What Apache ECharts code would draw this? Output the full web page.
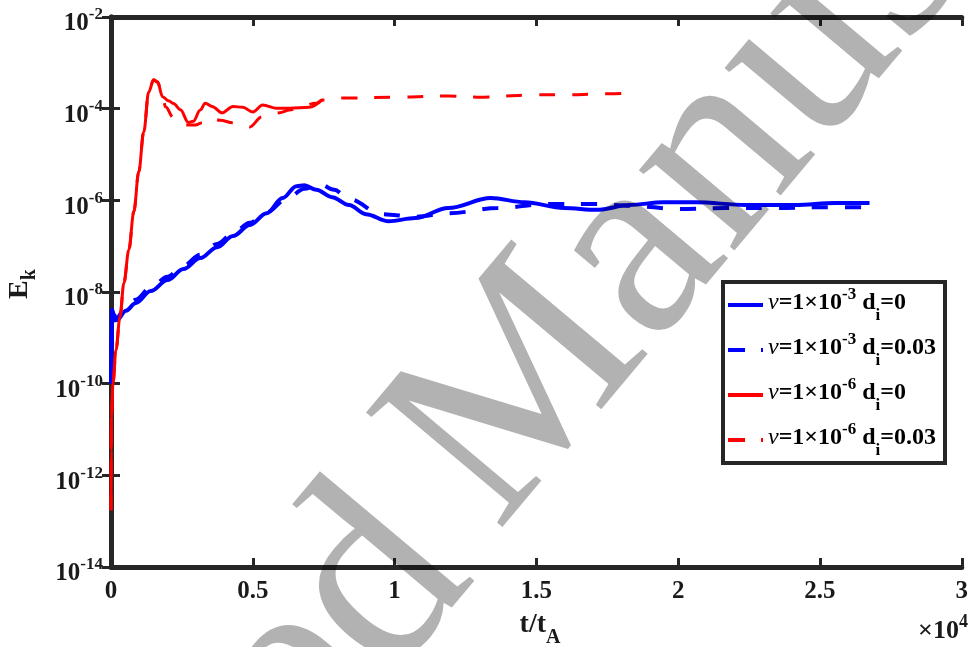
<!DOCTYPE html>
<html>
<head>
<meta charset="utf-8">
<script src="https://cdn.jsdelivr.net/npm/echarts@6/dist/echarts.min.js"></script>
<style>
  html, body { margin: 0; padding: 0; background: #fff; }
  #main { width: 971px; height: 647px; }
</style>
</head>
<body>
<div id="main"></div>
<script>
// t/t_A and E_k
const blueSolidT = [0, 17, 35, 105, 210, 524, 874, 1399, 1993, 2552, 3147, 3741, 4301, 4895, 5490, 6049, 6538, 6818, 7238, 7797, 8392, 8986, 9790, 10734, 11888, 13392, 14580, 15979, 17133, 18287, 19476, 20629, 22378, 24126, 25524, 26748];
const blueSolidE = [1.0e-10, 6.9e-10, 4.1e-9, 3.2e-9, 2.45e-9, 3.9e-9, 5.75e-9, 1.05e-8, 1.82e-8, 3.16e-8, 5.5e-8, 9.5e-8, 1.66e-7, 2.9e-7, 5.2e-7, 1.12e-6, 2.04e-6, 2.14e-6, 1.7e-6, 1.17e-6, 7.9e-7, 5.0e-7, 3.5e-7, 4.1e-7, 6.8e-7, 1.12e-6, 9.1e-7, 6.8e-7, 6.2e-7, 7.9e-7, 9.1e-7, 9.1e-7, 7.9e-7, 7.9e-7, 8.7e-7, 8.7e-7];

const blueDashT = [0, 35, 140, 524, 874, 1399, 1993, 2552, 3147, 3741, 4301, 4895, 5490, 6189, 6818, 7343, 7867, 8392, 9545, 10734, 11888, 13636, 15385, 17133, 18287, 20035, 21678, 23427, 25175, 26678];
const blueDashE = [1.0e-10, 2.8e-9, 2.4e-9, 4.7e-9, 6.8e-9, 1.25e-8, 2.15e-8, 3.75e-8, 6.5e-8, 1.12e-7, 1.9e-7, 3.25e-7, 5.5e-7, 1.07e-6, 1.78e-6, 2.3e-6, 1.7e-6, 1.07e-6, 5.0e-7, 4.4e-7, 5.2e-7, 6.8e-7, 8.3e-7, 8.3e-7, 7.6e-7, 6.5e-7, 6.8e-7, 6.8e-7, 7.1e-7, 7.1e-7];

const redSolidT = [0, 5, 17, 70, 175, 315, 455, 629, 804, 979, 1154, 1329, 1503, 1643, 1818, 2028, 2203, 2448, 2727, 2902, 3147, 3322, 3566, 3916, 4301, 4650, 4999, 5350, 5839, 6294, 6993, 7448];
const redSolidE = [1.74e-13, 3.5e-12, 1.86e-11, 1.02e-10, 5.4e-10, 2.8e-9, 1.58e-8, 8.3e-8, 5.6e-7, 4.2e-6, 3.1e-5, 2.3e-4, 4.3e-4, 3.8e-4, 1.82e-4, 1.48e-4, 1.29e-4, 9.5e-5, 5.0e-5, 5.3e-5, 9.3e-5, 1.32e-4, 1.12e-4, 8.1e-5, 1.12e-4, 1.07e-4, 8.5e-5, 1.2e-4, 1.02e-4, 1.02e-4, 1.07e-4, 1.55e-4];

const redDashT = [0, 5, 17, 70, 175, 315, 455, 629, 804, 979, 1154, 1329, 1503, 1643, 1818, 1923, 2203, 2622, 2972, 3217, 3497, 3846, 4301, 4720, 4895, 5315, 5944, 6294, 6643, 7238, 7448, 8147, 10140, 11888, 12937, 14930, 16084, 17238, 18531];
const redDashE = [1.74e-13, 3.5e-12, 1.86e-11, 1.02e-10, 5.4e-10, 2.8e-9, 1.58e-8, 8.3e-8, 5.6e-7, 4.2e-6, 3.1e-5, 2.3e-4, 4.3e-4, 3.8e-4, 1.82e-4, 1.1e-4, 6.3e-5, 4.4e-5, 4.4e-5, 4.9e-5, 6.3e-5, 5.6e-5, 4.9e-5, 4.4e-5, 4.0e-5, 6.6e-5, 8.1e-5, 9.3e-5, 1.1e-4, 1.32e-4, 1.55e-4, 1.7e-4, 1.78e-4, 1.9e-4, 1.78e-4, 2.0e-4, 2.0e-4, 2.1e-4, 2.2e-4];

const legendTexts = {
  nu3_d0: '{nu|ν}{t|=1×10}{sup|-3}{t| d}{sub|i}{t|=0}',
  nu3_d003: '{nu|ν}{t|=1×10}{sup|-3}{t| d}{sub|i}{t|=0.03}',
  nu6_d0: '{nu|ν}{t|=1×10}{sup|-6}{t| d}{sub|i}{t|=0}',
  nu6_d003: '{nu|ν}{t|=1×10}{sup|-6}{t| d}{sub|i}{t|=0.03}'
};

const FONT = '"Liberation Serif", "Times New Roman", serif';
const AXIS = '#262626';
const DASH = [16, 17];
// legend samples: full line, or dash + dot
const ICON_SOLID = 'path://M0,0H35V4H0Z';
const ICON_DASHDOT = 'path://M0,0H17V4H0Z M33,0H35V4H33Z';

function pairs(t, e) {
  return t.map((v, i) => [v, e[i]]);
}

const chart = echarts.init(document.getElementById('main'), null, { renderer: 'canvas' });

const lineSeries = (name, t, e, color, width, dashed) => ({
  name: name,
  type: 'line',
  data: pairs(t, e),
  symbol: 'none',
  smooth: 0.35,
  smoothMonotone: 'x',
  lineStyle: { color: color, width: width, type: dashed ? DASH : 'solid' },
  itemStyle: { color: color }
});

const WM = 'rgba(0,0,0,0.3)';
const WM_SIZE = 272;

chart.setOption({
  backgroundColor: '#fff',
  animation: false,
  grid: { left: 111, right: 4, top: 17, bottom: 80, containLabel: false },
  xAxis: [
    {
      type: 'value', min: 0, max: 30000, interval: 5000, position: 'bottom',
      axisLine: { lineStyle: { color: AXIS, width: 5 } },
      axisTick: { inside: true, length: 9, lineStyle: { color: AXIS, width: 3 } },
      splitLine: { show: false },
      axisLabel: {
        margin: 12,
        color: '#1a1a1a', fontFamily: FONT, fontWeight: 'bold', fontSize: 25,
        formatter: v => String(v / 10000),
        showMinLabel: true, showMaxLabel: true
      }
    },
    {
      type: 'value', min: 0, max: 30000, interval: 5000, position: 'top',
      axisLine: { lineStyle: { color: AXIS, width: 5 } },
      axisTick: { inside: true, length: 9, lineStyle: { color: AXIS, width: 3 } },
      splitLine: { show: false },
      axisLabel: { show: false }
    }
  ],
  yAxis: [
    {
      type: 'log', logBase: 10, min: 1e-14, max: 1e-2, interval: 2, splitNumber: 6, position: 'left',
      axisLine: { lineStyle: { color: AXIS, width: 5 } },
      axisTick: { inside: true, length: 9, lineStyle: { color: AXIS, width: 3 } },
      minorTick: { show: false },
      splitLine: { show: false },
      axisLabel: {
        margin: 8,
        color: '#1a1a1a',
        formatter: v => '{b|10}{e|' + Math.round(Math.log10(v)) + '}',
        rich: {
          b: { fontFamily: FONT, fontWeight: 'bold', fontSize: 25, color: '#1a1a1a', verticalAlign: 'bottom' },
          e: { fontFamily: FONT, fontWeight: 'bold', fontSize: 17, color: '#1a1a1a', verticalAlign: 'bottom', padding: [9, 0, 13, 0] }
        }
      }
    },
    {
      type: 'log', logBase: 10, min: 1e-14, max: 1e-2, interval: 2, splitNumber: 6, position: 'right',
      axisLine: { lineStyle: { color: AXIS, width: 5 } },
      axisTick: { inside: true, length: 9, lineStyle: { color: AXIS, width: 3 } },
      minorTick: { show: false },
      splitLine: { show: false },
      axisLabel: { show: false }
    }
  ],
  legend: {
    data: [
      { name: 'nu3_d0', icon: ICON_SOLID },
      { name: 'nu3_d003', icon: ICON_DASHDOT },
      { name: 'nu6_d0', icon: ICON_SOLID },
      { name: 'nu6_d003', icon: ICON_DASHDOT }
    ],
    orient: 'vertical',
    left: 728,
    top: 286,
    padding: 0,
    itemWidth: 35,
    itemHeight: 4,
    itemGap: 7,
    z: 8,
    selectedMode: false,
    formatter: name => legendTexts[name],
    textStyle: {
      rich: {
        t: { fontFamily: FONT, fontWeight: 'bold', fontSize: 24, color: '#000', verticalAlign: 'bottom', padding: [0, 0, 9, 0] },
        nu: { fontFamily: FONT, fontStyle: 'italic', fontSize: 24, color: '#000', verticalAlign: 'bottom', padding: [0, 0, 9, 0] },
        sup: { fontFamily: FONT, fontWeight: 'bold', fontSize: 17, color: '#000', verticalAlign: 'bottom', padding: [0, 0, 21, 0] },
        sub: { fontFamily: FONT, fontWeight: 'bold', fontSize: 17, color: '#000', verticalAlign: 'bottom' }
      }
    }
  },
  series: [
    lineSeries('nu3_d0', blueSolidT, blueSolidE, '#0000ff', 4, false),
    lineSeries('nu3_d003', blueDashT, blueDashE, '#0000ff', 4, true),
    lineSeries('nu6_d0', redSolidT, redSolidE, '#ff0000', 3, false),
    lineSeries('nu6_d003', redDashT, redDashE, '#ff0000', 3, true)
  ],
  graphic: [
    // legend box
    {
      type: 'rect', z: 7,
      shape: { x: 723, y: 282, width: 222, height: 181 },
      style: { fill: '#fff', stroke: AXIS, lineWidth: 4 }
    },
    {
      type: 'text', x: 23, y: 284, rotation: Math.PI / 2,
      style: {
        text: '{m|E}{s|k}', align: 'center', verticalAlign: 'middle',
        rich: {
          m: { fontFamily: FONT, fontWeight: 'bold', fontSize: 28, fill: '#1a1a1a', verticalAlign: 'bottom', padding: [0, 0, 6, 0] },
          s: { fontFamily: FONT, fontWeight: 'bold', fontSize: 20, fill: '#1a1a1a', verticalAlign: 'bottom' }
        }
      }
    },
    {
      type: 'text', x: 540, y: 629,
      style: {
        text: '{m|t/t}{s|A}', align: 'center', verticalAlign: 'middle',
        rich: {
          m: { fontFamily: FONT, fontWeight: 'bold', fontSize: 28, fill: '#1a1a1a', verticalAlign: 'bottom', padding: [0, 0, 9, 0] },
          s: { fontFamily: FONT, fontWeight: 'bold', fontSize: 20, fill: '#1a1a1a', verticalAlign: 'bottom' }
        }
      }
    },
    {
      type: 'text', x: 943, y: 629,
      style: {
        text: '{m|×10}{s|4}', align: 'center', verticalAlign: 'middle',
        rich: {
          m: { fontFamily: FONT, fontWeight: 'bold', fontSize: 26, fill: '#1a1a1a', verticalAlign: 'bottom' },
          s: { fontFamily: FONT, fontWeight: 'bold', fontSize: 18, fill: '#1a1a1a', verticalAlign: 'bottom', padding: [0, 0, 13, 0] }
        }
      }
    },
    // watermark, rotated about the centre of the "M"
    {
      type: 'group', x: 515, y: 390, rotation: 50 * Math.PI / 180, z: 100,
      children: [
        {
          type: 'text', x: -0.4445 * WM_SIZE, y: 7, z: 100,
          style: { text: 'Manuscript', fontFamily: FONT, fontSize: WM_SIZE, fill: WM, align: 'left', verticalAlign: 'middle' }
        },
        {
          type: 'text', x: -0.4445 * WM_SIZE + 20, y: 20, z: 100,
          style: { text: 'Accepted ', fontFamily: FONT, fontSize: WM_SIZE, fill: WM, align: 'right', verticalAlign: 'middle' }
        }
      ]
    }
  ]
});
</script>
</body>
</html>
